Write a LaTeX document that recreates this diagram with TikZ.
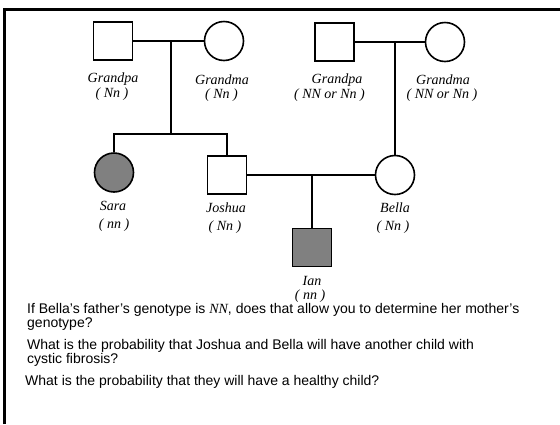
\documentclass[tikz,border=0pt]{standalone}
\usepackage{fontspec}
\setmainfont{Liberation Serif}
\setsansfont{Liberation Sans}
\begin{document}
\begin{tikzpicture}[x=1pt,y=-1pt,
  male/.style={draw, rectangle, minimum width=39pt, minimum height=38pt, inner sep=0pt, line width=1.6pt},
  female/.style={draw, circle, minimum size=39pt, inner sep=0pt, line width=1.6pt},
  affected/.style={fill=black!50},
  link/.style={line width=1.6pt},
  lbl/.style={font=\fontsize{14}{16}\selectfont\itshape, inner sep=0pt},
  q/.style={font=\sffamily\fontsize{14}{16}\selectfont, anchor=west, inner sep=0pt}
]
\useasboundingbox (0,0) rectangle (560,424);
\draw[line width=3pt] (4.5,424) -- (4.5,9.5) -- (561,9.5);

% individuals
\node[male] (gp1) at (113,41) {};
\node[female] (gm1) at (224,41) {};
\node[male] (gp2) at (334.5,42) {};
\node[female] (gm2) at (445,42) {};
\node[female, affected] (sara) at (114,172.5) {};
\node[male] (josh) at (227,175) {};
\node[female] (bella) at (395,175) {};
\node[male, affected] (ian) at (312,247.5) {};

% connectors
\coordinate (m1) at (171,41);
\coordinate (s1) at (171,134);
\draw[link] (gp1.east) -- (gm1.west);
\draw[link] (m1) -- (s1);
\draw[link] (sara.north) |- (s1) -| (josh.north);
\draw[link] (gp2.east) -- (gm2.west);
\draw[link] (gp2.east -| bella.north) -- (bella.north);
\draw[link] (josh.east) -- (bella.west);
\draw[link] (ian.north |- josh.east) -- (ian.north);

% labels
\node[lbl] (lgp1a) at (113,79) {Grandpa};
\node[lbl] (lgp1b) at (112,94) {( Nn )};
\node[lbl] (lgm1a) at (222,80) {Grandma};
\node[lbl] (lgm1b) at (221.5,95) {( Nn )};
\node[lbl] (lgp2a) at (337,80) {Grandpa};
\node[lbl] (lgp2b) at (329.5,95) {( NN or Nn )};
\node[lbl] (lgm2a) at (443,80) {Grandma};
\node[lbl] (lgm2b) at (442,95) {( NN or Nn )};
\node[lbl] (lsaraa) at (113,206) {Sara};
\node[lbl] (lsarab) at (114,225) {( nn )};
\node[lbl] (ljosha) at (226,208) {Joshua};
\node[lbl] (ljoshb) at (225,227) {( Nn )};
\node[lbl] (lbellaa) at (395,208) {Bella};
\node[lbl] (lbellab) at (393,227) {( Nn )};
\node[lbl] (liana) at (312,281) {Ian};
\node[lbl] (lianb) at (310,296) {( nn )};

% questions
\node[q] (q1a) at (27,310) {If Bella’s father’s genotype is {\rmfamily\itshape NN}, does that allow you to determine her mother’s};
\node[q] (q1b) at (27,324) {genotype?};
\node[q] (q2a) at (27,346) {What is the probability that Joshua and Bella will have another child with};
\node[q] (q2b) at (27,360) {cystic fibrosis?};
\node[q] (q3) at (25,382) {What is the probability that they will have a healthy child?};
\end{tikzpicture}
\end{document}
